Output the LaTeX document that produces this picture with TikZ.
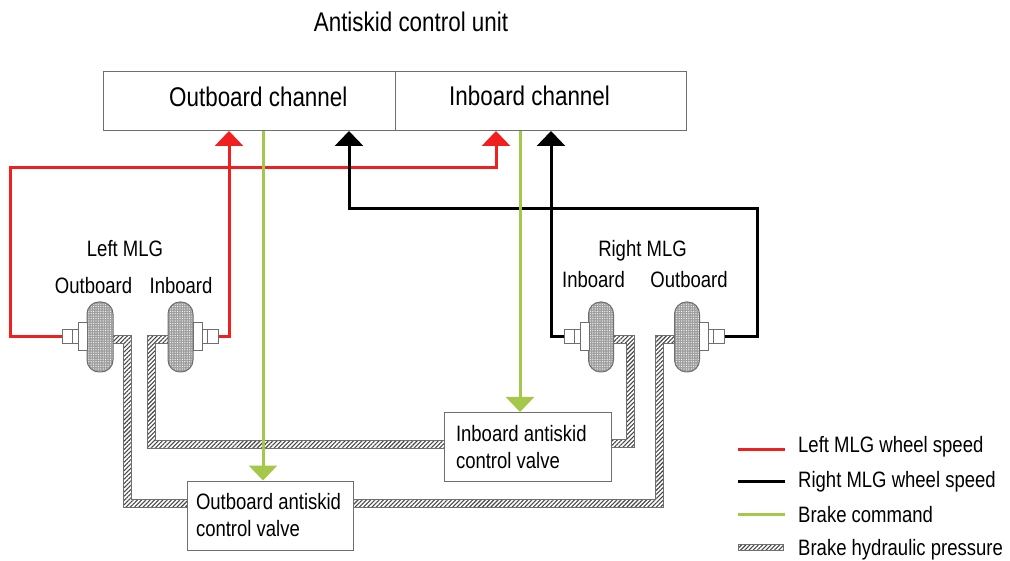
\documentclass[tikz,border=0pt]{standalone}
\usepackage{fontspec}
\setmainfont{Liberation Sans}[FakeStretch=0.83]
\usetikzlibrary{arrows.meta,patterns,patterns.meta}
\definecolor{wred}{RGB}{240,32,32}
\definecolor{bgreen}{RGB}{165,200,75}
\definecolor{edgegray}{RGB}{110,110,110}
\definecolor{hatchgray}{RGB}{70,70,70}
\begin{document}
\begin{tikzpicture}[x=1pt,y=-1pt,
  sig/.style={line width=3pt},
  tipped/.style={-{Triangle[width=28pt,length=15pt]}},
  pipe/.style={draw=edgegray, line width=1pt, preaction={fill=white},
    pattern={Lines[angle=45,distance=3pt,line width=1.1pt]}, pattern color=hatchgray},
  wheel/.style={draw=edgegray, line width=1pt, rounded corners=12pt,
    preaction={fill=gray!75}, pattern={Dots[distance=2.4pt,radius=0.6pt]}, pattern color=white,
    minimum width=25pt, minimum height=70pt, inner sep=0pt},
  hubbox/.style={draw=edgegray, fill=white, line width=1pt, inner sep=0pt,
    minimum width=9pt, minimum height=28pt},
  axlecap/.style={draw=edgegray, fill=white, line width=1pt, inner sep=0pt,
    minimum width=16pt, minimum height=14pt},
  chan/.style={draw=edgegray, line width=1pt, fill=white, inner sep=0pt,
    minimum height=59pt},
  valve/.style={draw=edgegray, line width=1pt, fill=white, align=flush left,
    font=\fontsize{22.3}{27}\selectfont, minimum height=69pt, inner ysep=0pt},
  small/.style={font=\fontsize{22.3}{27}\selectfont, inner sep=0pt},
  big/.style={font=\fontsize{27}{32}\selectfont, inner sep=0pt}
]
\useasboundingbox (0,0) rectangle (1010,561);
\fill[white] (0,0) rectangle (1010,561);

% title and control unit
\node[big, anchor=base] (title) at (411,32) {Antiskid control unit};
\node[chan, minimum width=292pt] (outch) at (249,101.5) {};
\node[chan, minimum width=291pt] (inch) at (540.5,101.5) {};
\node[big, anchor=base west] (outtxt) at (169,107) {Outboard channel};
\node[big, anchor=base west] (intxt) at (449,106) {Inboard channel};

% hydraulic pipes
\path[pipe] (110,336) -- (131,336) -- (131,499) -- (190,499) -- (190,507) -- (123,507) -- (123,344) -- (110,344) -- cycle;
\path[pipe] (171,336) -- (147,336) -- (147,448) -- (447,448) -- (447,440) -- (155,440) -- (155,344) -- (171,344) -- cycle;
\path[pipe] (610,336) -- (634,336) -- (634,447) -- (608,447) -- (608,439) -- (626,439) -- (626,344) -- (610,344) -- cycle;
\path[pipe] (678,336) -- (655,336) -- (655,499) -- (350,499) -- (350,507) -- (663,507) -- (663,344) -- (678,344) -- cycle;

% wheels
\node[wheel, minimum width=26pt] (wLO) at (100,337) {};
\node[hubbox] (hLO) at (82.5,337) {};
\node[axlecap] (cLO) at (70,337) {};
\draw[edgegray, line width=1pt] (cLO.north east) ++(-6,0) -- ++(0,14);

\node[wheel] (wLI) at (180.5,337) {};
\node[hubbox] (hLI) at (197.5,337) {};
\node[axlecap] (cLI) at (210,337) {};
\draw[edgegray, line width=1pt] (cLI.north west) ++(6,0) -- ++(0,14);

\node[wheel] (wRI) at (601,337) {};
\node[hubbox] (hRI) at (584.5,337) {};
\node[axlecap] (cRI) at (572,337) {};
\draw[edgegray, line width=1pt] (cRI.north east) ++(-6,0) -- ++(0,14);

\node[wheel] (wRO) at (687,337) {};
\node[hubbox] (hRO) at (703.5,337) {};
\node[axlecap] (cRO) at (716,337) {};
\draw[edgegray, line width=1pt] (cRO.north west) ++(6,0) -- ++(0,14);

% labels
\node[small, anchor=base] (lmlg) at (125,257) {Left MLG};
\node[small, anchor=base] (lout) at (93.5,294) {Outboard};
\node[small, anchor=base] (lin) at (181,294) {Inboard};
\node[small, anchor=base] (rmlg) at (642.5,257) {Right MLG};
\node[small, anchor=base] (rin) at (593.5,288) {Inboard};
\node[small, anchor=base] (rout) at (689,288) {Outboard};

% valves
\node[valve, inner xsep=9pt, text width=148pt] (ovalve) at (270,515.5) {Outboard antiskid\\control valve};
\node[valve, inner xsep=12pt, text width=143pt] (ivalve) at (527.5,447) {Inboard antiskid\\control valve};

% target points on the control unit
\coordinate (tR1) at (229,131);
\coordinate (tR2) at (496,131);
\coordinate (tB1) at (349,131);
\coordinate (tB2) at (551,131);
\coordinate (gO) at (263,131);
\coordinate (gI) at (520,131);
\coordinate (redbend) at (10,168);
\coordinate (blackbend) at (757,209);

% wheel speed signals
\draw[sig, wred, tipped] (cLO.west) -| (redbend) -| (tR2);
\draw[sig, wred, tipped] (cLI.east) -| (tR1);
\draw[sig, black, tipped] (cRO.east) -| (blackbend) -| (tB1);
\draw[sig, black, tipped] (cRI.west) -| (tB2);

% brake commands
\draw[sig, bgreen, tipped] (gO) -- (gO |- ovalve.north);
\draw[sig, bgreen, tipped] (gI) -- (gI |- ivalve.north);

% legend
\draw[sig, wred] (738,449) -- (785,449);
\draw[sig, black] (738,481) -- (785,481);
\draw[sig, bgreen] (738,514) -- (785,514);
\path[pipe] (738,544) rectangle (783,550);
\node[small, anchor=base west] (lg1) at (798,453) {Left MLG wheel speed};
\node[small, anchor=base west] (lg2) at (798,487) {Right MLG wheel speed};
\node[small, anchor=base west] (lg3) at (798,522) {Brake command};
\node[small, anchor=base west] (lg4) at (798,555) {Brake hydraulic pressure};
\end{tikzpicture}
\end{document}
